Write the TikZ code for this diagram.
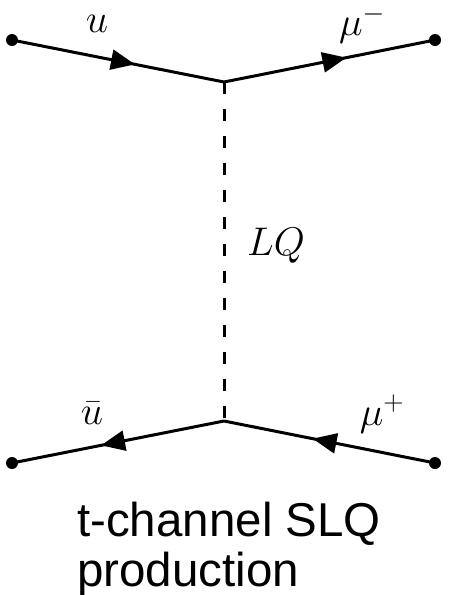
\RequirePackage{fix-cm}
\documentclass[tikz,border=0pt]{standalone}
\usepackage{fontspec}
\setmainfont{Liberation Sans}
\usetikzlibrary{positioning, arrows.meta, decorations.markings}
\tikzset{
    vertex/.style = {circle, fill=black, inner sep=0pt, minimum size=12pt},
    fermion/.style = {line width=3pt, postaction={decorate},
        decoration={markings, mark=at position 0.58 with
        {\arrow{Triangle[length=24pt, width=20pt]}}}},
    scalar/.style = {line width=3pt, dash pattern=on 12pt off 15pt},
    lbl/.style = {font=\fontsize{40}{40}\selectfont, inner sep=0pt},
}
\begin{document}
\begin{tikzpicture}[x=1pt, y=-1pt]
        \useasboundingbox (0,0) rectangle (449,595);
        % external points and vertices
        \node[vertex] (ul) at (12,40) {};
        \node[vertex] (ur) at (435,40) {};
        \node[vertex] (ll) at (12,463) {};
        \node[vertex] (lr) at (435,463) {};
        \coordinate (vt) at (224,82);
        \coordinate (vb) at (224,421);
        % fermion lines
        \draw[fermion] (ul.center) -- (vt);
        \draw[fermion] (vt) -- (ur.center);
        \draw[fermion] (vb) -- (ll.center);
        \draw[fermion] (lr.center) -- (vb);
        % leptoquark propagator
        \draw[scalar] (vt) -- (vb);
        % labels
        \node[lbl] (lu) at (97,24) {$u$};
        \node[lbl] (lmum) at (362,24) {$\mu^-$};
        \node[lbl] (llq) at (276,246) {$LQ$};
        \node[lbl] (lub) at (92,413) {$\bar{u}$};
        \node[lbl] (lmup) at (382,414) {$\mu^+$};
        \node[anchor=north west, align=left, inner sep=0pt,
              font=\fontsize{47.5}{50}\selectfont] (cap) at (77,502)
              {t-channel SLQ\\production};
      \end{tikzpicture}
\end{document}
